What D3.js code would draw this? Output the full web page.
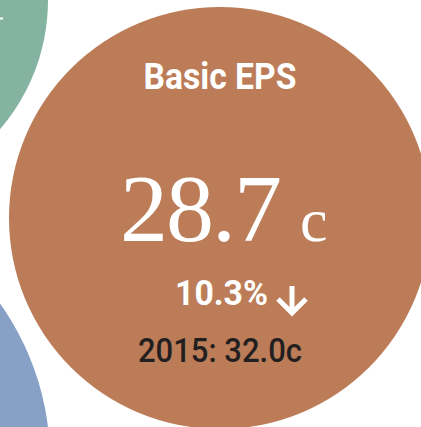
<!DOCTYPE html>
<html>
<head>
<meta charset="utf-8">
<script src="https://cdn.jsdelivr.net/npm/d3@7"></script>
<style>
  html, body { margin: 0; padding: 0; background: #fff; }
  svg { display: block; }
</style>
</head>
<body>
<div id="chart"></div>
<script>
// metric shown in the main bubble
var metricName = "Basic EPS";
var currentValue = 28.7;
var priorYear = "2015";
var priorValue = 32.0;
var unit = "c";

// bubbles of the page layout (neighbours are only partly visible)
var bubbleNames = ["other-top", "eps", "other-bottom"];
var bubbleColors = ["#84b3a2", "#bb7c57", "#86a0c6"];
var bubbleLayout = [
    {cx: -150, cy: 0, r: 198},
    {cx: 220, cy: 218, r: 211},
    {cx: -220, cy: 460, r: 270}
];

var width = 421, height = 427;

var change = (currentValue - priorValue) / priorValue * 100;

var svg = d3.select("#chart").append("svg")
    .attr("width", width)
    .attr("height", height);

svg.selectAll("circle.bubble")
    .data(bubbleNames)
    .enter().append("circle")
    .attr("class", "bubble")
    .attr("cx", function(d, i) { return bubbleLayout[i].cx; })
    .attr("cy", function(d, i) { return bubbleLayout[i].cy; })
    .attr("r", function(d, i) { return bubbleLayout[i].r; })
    .attr("fill", function(d, i) { return bubbleColors[i]; });

// tail of an arrow in the top bubble
svg.append("line")
    .attr("x1", -6).attr("x2", 3)
    .attr("y1", 18.5).attr("y2", 18.5)
    .attr("stroke", "#fff")
    .attr("stroke-width", 2);

var main = bubbleLayout[1];
var g = svg.append("g")
    .attr("transform", "translate(" + main.cx + ",0)");

var narrow = "'Liberation Sans Narrow', 'Arial Narrow', 'Roboto', sans-serif";

g.append("text")
    .attr("x", 0)
    .attr("y", 89)
    .attr("text-anchor", "middle")
    .attr("font-family", narrow)
    .attr("font-weight", "bold")
    .attr("font-size", 36)
    .attr("textLength", 153)
    .attr("lengthAdjust", "spacingAndGlyphs")
    .attr("fill", "#fff")
    .text(metricName);

var big = g.append("text")
    .attr("x", -100)
    .attr("y", 241)
    .attr("font-family", "'Liberation Serif', 'DejaVu Serif', serif")
    .attr("fill", "#fff");
big.append("tspan")
    .attr("font-size", 96)
    .attr("letter-spacing", -2)
    .text(d3.format(".1f")(currentValue));
big.append("tspan")
    .attr("font-size", 62)
    .attr("dx", 20)
    .text(unit);

// change line
var changeText = g.append("text")
    .attr("x", 48)
    .attr("y", 305)
    .attr("text-anchor", "end")
    .attr("font-family", narrow)
    .attr("font-weight", "bold")
    .attr("font-size", 35)
    .attr("textLength", 93)
    .attr("lengthAdjust", "spacingAndGlyphs")
    .attr("fill", "#fff")
    .text(d3.format(".1f")(Math.abs(change)) + "%");

// down arrow
var ax = 72, ay0 = 286, ay1 = 313;
g.append("path")
    .attr("d", "M" + ax + "," + ay0 + "V" + ay1 +
        "M" + (ax - 14) + "," + (ay1 - 14) + "L" + ax + "," + ay1 + "L" + (ax + 14) + "," + (ay1 - 14))
    .attr("fill", "none")
    .attr("stroke", "#fff")
    .attr("stroke-width", 5)
    .attr("stroke-linejoin", "miter");

g.append("text")
    .attr("x", 0)
    .attr("y", 362)
    .attr("text-anchor", "middle")
    .attr("font-family", narrow)
    .attr("font-weight", 500)
    .attr("font-size", 34)
    .attr("textLength", 164)
    .attr("lengthAdjust", "spacingAndGlyphs")
    .attr("fill", "#231f20")
    .text(priorYear + ": " + d3.format(".1f")(priorValue) + unit);
</script>
</body>
</html>
